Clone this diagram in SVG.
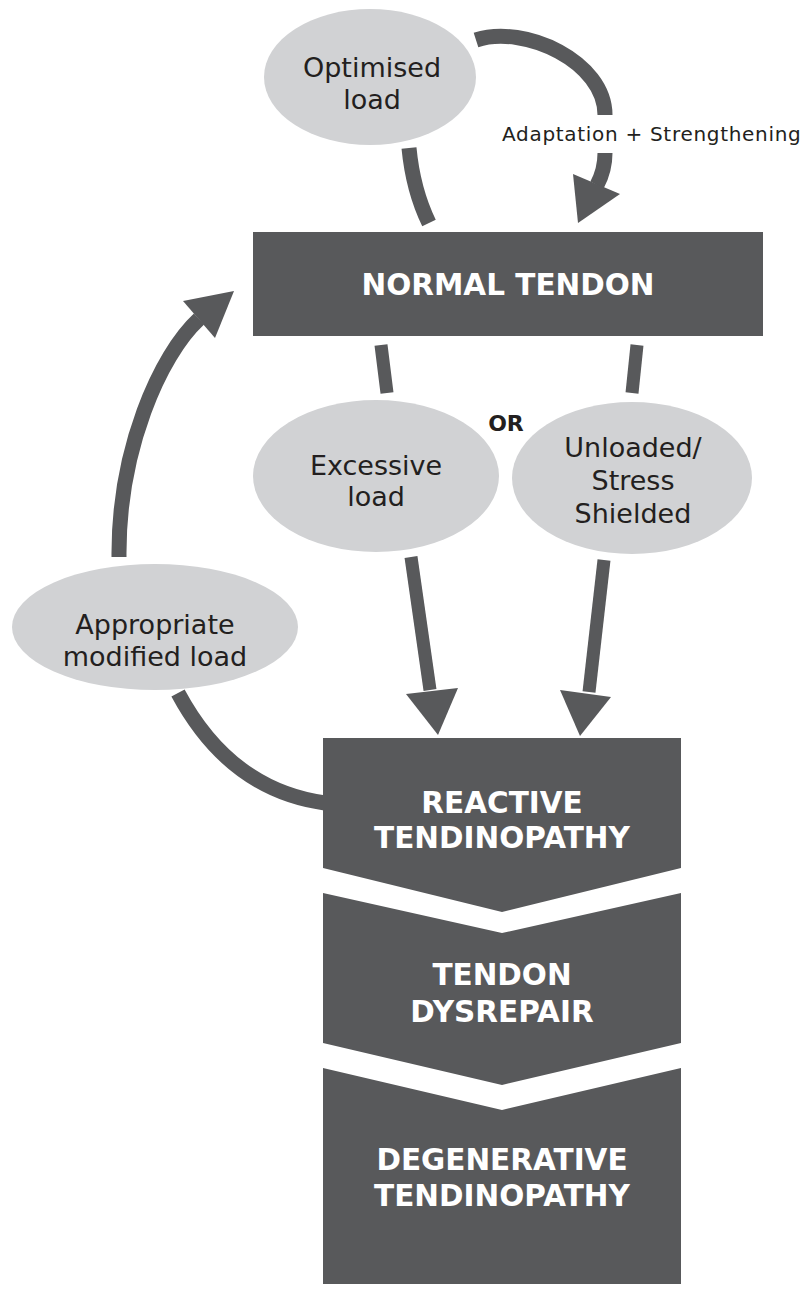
<svg xmlns="http://www.w3.org/2000/svg" width="803" height="1291" viewBox="0 0 803 1291">
  <style>
    .box { fill: #58595b; }
    .oval { fill: #d1d2d4; }
    .lbl { font-family: "DejaVu Sans", "Liberation Sans", sans-serif; font-size: 27px; fill: #231f20; text-anchor: middle; }
    .head { font-family: "DejaVu Sans", "Liberation Sans", sans-serif; font-weight: bold; font-size: 29.5px; fill: #ffffff; text-anchor: middle; }
    .edge { fill: none; stroke: #58595b; stroke-width: 15; }
    .thin { fill: none; stroke: #58595b; stroke-width: 13; }
    .tip { fill: #58595b; }
  </style>

  <!-- connectors -->
  <g id="connectors">
    <!-- loop above the normal tendon -->
    <path class="edge" d="M 409 148 Q 413 190 429 223"/>
    <path class="edge" d="M 476 40 C 525 24 605 62 605 115"/>
    <path class="edge" d="M 605 153 Q 605 170 597 185"/>
    <polygon class="tip" points="573,174 620,194 578,223"/>
    <text x="502" y="141" font-family="DejaVu Sans, Liberation Sans, sans-serif" font-size="20" letter-spacing="0.7" fill="#231f20">Adaptation + Strengthening</text>

    <!-- branches from the normal tendon -->
    <path class="thin" d="M 381 345 L 387 393"/>
    <path class="thin" d="M 637 345 L 632 393"/>
    <text x="506" y="431" font-family="DejaVu Sans, Liberation Sans, sans-serif" font-weight="bold" font-size="22" fill="#231f20" text-anchor="middle">OR</text>

    <!-- load types into reactive tendinopathy -->
    <path class="thin" d="M 411 557 L 430 690"/>
    <polygon class="tip" points="406,694 458,688 438,735"/>
    <path class="thin" d="M 604 560 L 589 692"/>
    <polygon class="tip" points="560,690 611,697 580,736"/>

    <!-- recovery loop -->
    <path class="edge" d="M 178 693 Q 230 790 325 803"/>
    <path class="edge" d="M 119 557 C 118 450 160 355 199 319"/>
    <polygon class="tip" points="234,291 183,301 215,338"/>
  </g>

  <g id="optimised-load">
    <ellipse class="oval" cx="370" cy="77" rx="106" ry="68"/>
    <text class="lbl" x="372" y="77">Optimised</text>
    <text class="lbl" x="372" y="109">load</text>
  </g>

  <g id="normal-tendon">
    <rect class="box" x="253" y="232" width="510" height="104"/>
    <text class="head" x="508" y="295" font-size="30">NORMAL TENDON</text>
  </g>

  <g id="excessive-load">
    <ellipse class="oval" cx="376" cy="476" rx="123" ry="76"/>
    <text class="lbl" x="376" y="475">Excessive</text>
    <text class="lbl" x="376" y="506">load</text>
  </g>

  <g id="unloaded">
    <ellipse class="oval" cx="632" cy="478" rx="120" ry="76"/>
    <text class="lbl" x="633" y="457">Unloaded/</text>
    <text class="lbl" x="633" y="490">Stress</text>
    <text class="lbl" x="633" y="523">Shielded</text>
  </g>

  <g id="appropriate-load">
    <ellipse class="oval" cx="155" cy="627" rx="143" ry="63"/>
    <text class="lbl" x="155" y="634">Appropriate</text>
    <text class="lbl" x="155" y="666">modified load</text>
  </g>

  <g id="reactive">
    <polygon class="box" points="323,738 681,738 681,868 502,912 323,868"/>
    <text class="head" x="502" y="813">REACTIVE</text>
    <text class="head" x="502" y="848">TENDINOPATHY</text>
  </g>

  <g id="dysrepair">
    <polygon class="box" points="323,893 502,933 681,893 681,1043 502,1085 323,1043"/>
    <text class="head" x="502" y="985">TENDON</text>
    <text class="head" x="502" y="1022">DYSREPAIR</text>
  </g>

  <g id="degenerative">
    <polygon class="box" points="323,1068 502,1110 681,1068 681,1284 323,1284"/>
    <text class="head" x="502" y="1170">DEGENERATIVE</text>
    <text class="head" x="502" y="1206">TENDINOPATHY</text>
  </g>
</svg>
